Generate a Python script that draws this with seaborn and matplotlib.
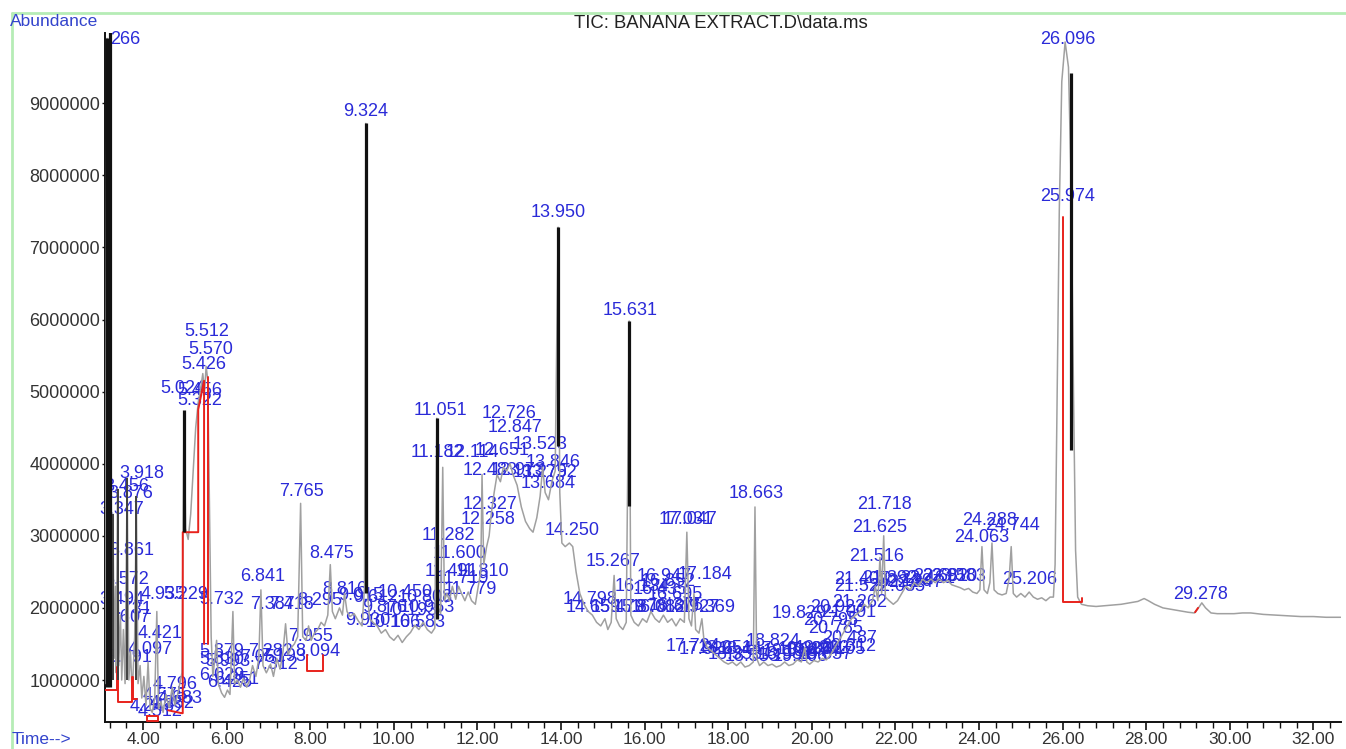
import numpy as np
import pandas as pd
import matplotlib
matplotlib.use("Agg")
import matplotlib.pyplot as plt
import seaborn as sns
from matplotlib.lines import Line2D
from matplotlib.ticker import MultipleLocator

# ---------------- data (time in min, abundance in millions) ----------------
tic_trace = [
    (3.09, 0.95), (3.14, 9.90), (3.17, 1.30), (3.21, 10.0), (3.25, 1.50), (3.28, 3.30), (3.31, 1.30),
    (3.34, 2.30), (3.36, 1.10), (3.39, 3.65), (3.42, 1.20), (3.46, 1.90), (3.49, 1.00), (3.53, 1.70),
    (3.57, 0.95), (3.62, 3.80), (3.66, 1.00), (3.70, 1.40), (3.74, 0.80), (3.80, 1.60), (3.84, 3.55),
    (3.88, 0.95), (3.93, 1.20), (3.97, 0.75), (4.02, 1.05), (4.07, 0.65), (4.12, 1.25), (4.17, 0.60),
    (4.22, 0.55), (4.28, 0.75), (4.33, 1.95), (4.37, 0.60), (4.43, 0.70), (4.48, 0.55), (4.55, 0.80),
    (4.62, 0.62), (4.70, 0.90), (4.76, 0.65), (4.82, 0.78), (4.88, 0.95), (4.93, 1.10), (4.98, 4.70),
    (5.02, 3.10), (5.08, 2.95), (5.14, 3.30), (5.20, 3.90), (5.26, 4.50), (5.32, 4.85), (5.38, 5.05),
    (5.43, 5.25), (5.47, 5.00), (5.51, 5.35), (5.55, 5.15), (5.59, 3.40), (5.63, 1.60), (5.67, 1.05),
    (5.72, 1.30), (5.76, 1.55), (5.80, 0.95), (5.88, 0.82), (5.95, 0.76), (6.02, 0.86), (6.08, 0.80),
    (6.15, 1.95), (6.19, 0.95), (6.26, 1.00), (6.33, 0.90), (6.40, 1.02), (6.48, 0.90), (6.55, 1.00),
    (6.62, 1.20), (6.70, 1.05), (6.77, 1.30), (6.82, 2.25), (6.87, 1.20), (6.95, 1.10), (7.05, 1.22),
    (7.12, 1.05), (7.20, 1.30), (7.28, 1.15), (7.35, 1.40), (7.41, 1.78), (7.47, 1.35), (7.55, 1.45),
    (7.62, 1.50), (7.70, 1.60), (7.77, 3.45), (7.82, 1.60), (7.90, 1.55), (7.96, 1.75), (8.02, 1.55),
    (8.10, 1.65), (8.18, 1.70), (8.26, 1.80), (8.34, 1.75), (8.42, 1.90), (8.48, 2.60), (8.53, 1.95),
    (8.60, 1.85), (8.70, 2.00), (8.77, 1.90), (8.82, 2.20), (8.88, 1.95), (8.95, 1.88), (9.05, 1.92),
    (9.15, 1.82), (9.24, 1.75), (9.30, 2.30), (9.33, 8.72), (9.37, 2.20), (9.42, 1.85), (9.50, 1.80),
    (9.60, 1.75), (9.70, 1.65), (9.80, 1.70), (9.90, 1.60), (10.00, 1.55), (10.10, 1.62), (10.20, 1.52),
    (10.30, 1.60), (10.40, 1.66), (10.50, 1.76), (10.60, 1.70), (10.70, 1.80), (10.80, 1.70), (10.90, 1.65),
    (10.98, 1.72), (11.03, 4.63), (11.07, 2.00), (11.12, 1.92), (11.17, 3.95), (11.21, 2.10), (11.27, 2.20),
    (11.33, 2.10), (11.40, 2.30), (11.48, 2.12), (11.55, 2.30), (11.62, 2.20), (11.70, 2.10), (11.78, 2.22),
    (11.86, 2.10), (11.95, 2.05), (12.02, 2.30), (12.08, 2.50), (12.11, 3.85), (12.15, 2.60), (12.22, 2.85),
    (12.28, 3.00), (12.33, 3.30), (12.40, 3.60), (12.47, 3.85), (12.55, 3.75), (12.62, 3.95), (12.70, 3.90),
    (12.78, 4.00), (12.85, 3.85), (12.95, 3.70), (13.05, 3.40), (13.15, 3.20), (13.25, 3.10), (13.33, 3.05),
    (13.42, 3.25), (13.50, 3.55), (13.56, 3.95), (13.62, 3.60), (13.70, 3.50), (13.78, 3.75), (13.86, 3.90),
    (13.93, 7.28), (13.97, 3.60), (14.02, 2.90), (14.10, 2.85), (14.20, 2.90), (14.28, 2.85), (14.36, 2.50),
    (14.45, 2.20), (14.55, 2.05), (14.65, 1.95), (14.75, 1.90), (14.85, 1.80), (14.95, 1.75), (15.05, 1.85),
    (15.12, 1.70), (15.20, 1.80), (15.27, 2.45), (15.32, 1.85), (15.40, 1.75), (15.48, 1.70), (15.56, 1.80),
    (15.63, 5.98), (15.67, 1.90), (15.75, 1.80), (15.85, 1.75), (15.95, 1.85), (16.05, 1.80), (16.15, 1.95),
    (16.25, 1.85), (16.35, 1.80), (16.45, 1.90), (16.55, 1.80), (16.65, 1.85), (16.75, 1.75), (16.85, 1.85),
    (16.95, 1.80), (17.01, 3.05), (17.06, 1.85), (17.12, 1.75), (17.18, 2.20), (17.22, 1.70), (17.30, 1.65),
    (17.37, 1.85), (17.42, 1.55), (17.50, 1.45), (17.60, 1.40), (17.70, 1.35), (17.80, 1.30), (17.90, 1.25),
    (18.00, 1.22), (18.10, 1.25), (18.20, 1.20), (18.30, 1.25), (18.40, 1.18), (18.50, 1.20), (18.60, 1.25),
    (18.64, 3.40), (18.68, 1.30), (18.75, 1.20), (18.85, 1.25), (18.95, 1.20), (19.05, 1.22), (19.15, 1.18),
    (19.25, 1.20), (19.35, 1.25), (19.45, 1.20), (19.55, 1.22), (19.65, 1.28), (19.75, 1.25), (19.83, 1.45),
    (19.88, 1.25), (19.95, 1.22), (20.05, 1.27), (20.15, 1.25), (20.25, 1.30), (20.35, 1.28), (20.45, 1.35),
    (20.55, 1.45), (20.65, 1.55), (20.75, 1.65), (20.85, 1.75), (20.95, 1.85), (21.05, 1.90), (21.15, 1.95),
    (21.25, 2.05), (21.35, 2.00), (21.45, 2.10), (21.52, 2.30), (21.58, 2.10), (21.63, 2.70), (21.67, 2.20),
    (21.72, 3.00), (21.76, 2.15), (21.85, 2.10), (21.95, 2.05), (22.05, 2.10), (22.15, 2.20), (22.25, 2.30),
    (22.35, 2.25), (22.45, 2.35), (22.55, 2.30), (22.65, 2.40), (22.75, 2.35), (22.85, 2.40), (22.95, 2.35),
    (23.05, 2.40), (23.15, 2.35), (23.25, 2.38), (23.35, 2.32), (23.45, 2.30), (23.55, 2.28), (23.65, 2.25),
    (23.75, 2.27), (23.85, 2.22), (23.95, 2.20), (24.02, 2.25), (24.07, 2.85), (24.12, 2.25), (24.20, 2.20),
    (24.26, 2.35), (24.31, 2.90), (24.36, 2.25), (24.45, 2.20), (24.55, 2.18), (24.65, 2.20), (24.72, 2.40),
    (24.77, 2.85), (24.82, 2.20), (24.90, 2.15), (25.00, 2.20), (25.10, 2.15), (25.20, 2.22), (25.30, 2.15),
    (25.40, 2.12), (25.50, 2.14), (25.60, 2.10), (25.70, 2.15), (25.78, 2.15), (25.82, 2.60), (25.86, 4.50),
    (25.92, 7.50), (25.98, 9.30), (26.06, 9.85), (26.14, 9.50), (26.20, 8.00), (26.26, 5.00), (26.31, 2.80),
    (26.36, 2.15), (26.45, 2.05), (26.60, 2.03), (26.80, 2.02), (27.00, 2.03), (27.20, 2.04), (27.40, 2.05),
    (27.60, 2.07), (27.80, 2.09), (27.95, 2.13), (28.05, 2.10), (28.20, 2.05), (28.40, 2.00), (28.60, 1.98),
    (28.80, 1.96), (29.00, 1.94), (29.15, 1.93), (29.25, 2.00), (29.33, 2.07), (29.42, 2.00), (29.55, 1.93),
    (29.70, 1.92), (29.90, 1.92), (30.10, 1.92), (30.30, 1.93), (30.50, 1.93), (30.80, 1.91), (31.10, 1.90),
    (31.40, 1.89), (31.70, 1.88), (32.00, 1.88), (32.30, 1.87), (32.65, 1.87),
]

# integrated-peak markers (time, low, high) in millions
black_peaks = [(3.14, 0.90, 9.90), (3.21, 0.90, 10.0), (4.98, 3.05, 4.75), (9.33, 2.20, 8.72),
               (11.03, 1.85, 4.63), (13.93, 4.25, 7.28), (15.63, 3.41, 5.98), (26.20, 4.19, 9.42)]
dark_peaks = [(3.28, 1.0, 3.30), (3.39, 1.0, 3.65), (3.62, 1.0, 3.80), (3.84, 1.0, 3.55)]

# red integration baselines
red_baselines = {
    "b1": [(3.09, 0.86), (3.38, 0.86), (3.38, 1.18), (3.40, 1.18), (3.40, 0.69), (3.74, 0.69),
           (3.74, 1.04), (3.77, 1.04), (3.77, 0.74), (3.86, 0.74)],
    "b2": [(4.10, 0.50), (4.36, 0.50), (4.36, 0.43), (4.10, 0.43), (4.10, 0.50)],
    "b3": [(4.60, 0.58), (4.92, 0.54), (4.95, 0.54), (4.95, 3.05), (5.32, 3.05), (5.32, 4.75),
           (5.46, 5.15), (5.46, 1.50)],
    "b4": [(5.55, 5.20), (5.55, 1.50)],
    "b5": [(7.93, 1.35), (7.93, 1.12), (8.31, 1.12), (8.31, 1.35)],
    "b6": [(26.01, 7.42), (26.01, 2.08), (26.46, 2.08), (26.46, 2.14)],
    "b7": [(29.17, 1.94), (29.24, 2.00)],
}

# peak labels: (text, time, abundance in millions)
peak_labels = [
    ("266", 3.57, 9.88), ("3.918", 3.98, 3.87), ("3.456", 3.62, 3.68), ("3.876", 3.71, 3.58),
    ("3.347", 3.50, 3.37), ("3.861", 3.74, 2.80), ("3.572", 3.62, 2.39), ("3.494", 3.50, 2.12),
    ("3.731", 3.69, 1.98), ("3.607", 3.64, 1.86), ("4.421", 4.41, 1.64), ("4.097", 4.17, 1.42),
    ("3.791", 3.69, 1.31), ("4.796", 4.77, 0.94), ("4.683", 4.89, 0.75), ("4.575", 4.53, 0.79),
    ("4.243", 4.22, 0.63), ("4.512", 4.41, 0.56), ("4.352", 4.69, 0.68), ("4.935", 4.48, 2.19),
    ("5.229", 5.03, 2.19), ("5.732", 5.89, 2.12), ("6.841", 6.87, 2.43), ("7.387", 7.09, 2.05),
    ("7.418", 7.56, 2.05), ("8.295", 8.23, 2.10), ("7.765", 7.80, 3.61), ("8.475", 8.52, 2.75),
    ("8.816", 8.83, 2.26), ("9.015", 9.21, 2.17), ("9.612", 9.57, 2.14), ("10.450", 10.27, 2.21),
    ("10.808", 10.75, 2.14), ("9.876", 9.79, 2.00), ("10.193", 10.39, 1.97), ("10.963", 10.79, 2.01),
    ("9.930", 9.38, 1.83), ("10.166", 9.98, 1.80), ("10.583", 10.58, 1.80), ("7.955", 8.00, 1.61),
    ("7.282", 7.04, 1.40), ("8.094", 8.19, 1.40), ("5.879", 5.89, 1.40), ("5.830", 5.89, 1.28),
    ("5.993", 6.03, 1.25), ("6.029", 5.89, 1.06), ("6.251", 6.25, 1.01), ("6.425", 6.08, 0.96),
    ("7.051", 6.85, 1.31), ("7.193", 7.35, 1.33), ("7.312", 7.18, 1.22), ("9.324", 9.33, 8.88),
    ("11.051", 11.11, 4.74), ("11.182", 11.03, 4.15), ("12.114", 11.87, 4.15), ("12.651", 12.59, 4.19),
    ("12.726", 12.76, 4.70), ("12.847", 12.90, 4.50), ("13.523", 13.50, 4.26), ("12.483", 12.30, 3.91),
    ("12.973", 12.97, 3.91), ("13.279", 13.50, 3.88), ("13.846", 13.81, 4.02), ("13.752", 13.74, 3.88),
    ("13.684", 13.69, 3.73), ("12.327", 12.30, 3.43), ("12.258", 12.25, 3.22), ("14.250", 14.26, 3.08),
    ("11.282", 11.30, 3.01), ("11.600", 11.58, 2.76), ("11.491", 11.39, 2.50), ("11.810", 12.11, 2.50),
    ("11.719", 11.63, 2.41), ("11.779", 11.82, 2.26), ("13.950", 13.93, 7.49), ("15.631", 15.65, 6.12),
    ("15.267", 15.24, 2.65), ("14.798", 14.69, 2.11), ("14.659", 14.77, 2.01), ("15.479", 15.36, 2.01),
    ("15.878", 15.89, 2.01), ("16.082", 16.32, 2.01), ("16.375", 16.75, 2.03), ("16.927", 17.13, 2.01),
    ("17.369", 17.52, 2.01), ("16.134", 15.94, 2.29), ("16.435", 16.37, 2.25), ("16.695", 16.73, 2.19),
    ("16.852", 16.56, 2.36), ("16.947", 16.46, 2.43), ("17.184", 17.44, 2.46), ("17.031", 16.99, 3.22),
    ("17.047", 17.09, 3.22), ("18.663", 18.67, 3.58), ("17.724", 17.16, 1.47), ("17.926", 17.47, 1.42),
    ("18.251", 17.92, 1.44), ("18.824", 19.07, 1.54), ("18.353", 18.16, 1.35), ("18.553", 18.57, 1.32),
    ("18.981", 19.36, 1.35), ("19.206", 19.72, 1.32), ("19.474", 20.00, 1.39), ("19.657", 20.32, 1.35),
    ("20.105", 20.63, 1.42), ("20.312", 20.87, 1.47), ("20.487", 20.91, 1.57), ("18.447", 18.40, 1.42),
    ("19.013", 19.48, 1.40), ("19.330", 19.84, 1.42), ("19.902", 20.24, 1.44), ("19.829", 19.69, 1.92),
    ("20.923", 20.63, 2.01), ("21.001", 20.87, 1.93), ("20.795", 20.44, 1.83), ("20.785", 20.56, 1.72),
    ("21.262", 21.15, 2.08), ("21.407", 21.20, 2.40), ("21.522", 21.20, 2.29), ("21.516", 21.54, 2.71),
    ("21.625", 21.63, 3.12), ("21.718", 21.73, 3.43), ("21.892", 21.87, 2.41), ("22.130", 22.23, 2.37),
    ("22.247", 22.47, 2.35), ("22.461", 22.78, 2.41), ("22.682", 23.07, 2.43), ("22.910", 23.31, 2.44),
    ("23.583", 23.50, 2.43), ("22.035", 22.06, 2.30), ("24.063", 24.07, 2.97), ("24.288", 24.26, 3.21),
    ("24.744", 24.81, 3.14), ("25.206", 25.22, 2.39), ("25.974", 26.13, 7.71), ("26.096", 26.13, 9.88),
    ("29.278", 29.31, 2.19), ("5.512", 5.53, 5.83), ("5.570", 5.63, 5.58), ("5.426", 5.46, 5.37),
    ("5.024", 4.96, 5.05), ("5.456", 5.36, 5.02), ("5.322", 5.36, 4.88),
]

y_ticks = [1000000, 2000000, 3000000, 4000000, 5000000, 6000000, 7000000, 8000000, 9000000]
x_ticks = [4, 6, 8, 10, 12, 14, 16, 18, 20, 22, 24, 26, 28, 30, 32]
x_tick_labels = ["4.00", "6.00", "8.00", "10.00", "12.00", "14.00", "16.00", "18.00", "20.00",
                 "22.00", "24.00", "26.00", "28.00", "30.00", "32.00"]
title = "TIC: BANANA EXTRACT.D\\data.ms"

# ---------------- drawing ----------------
sns.set_theme(style="white")
plt.rcParams['font.family'] = ['Liberation Sans', 'DejaVu Sans']

W, H = 1346, 749
fig = plt.figure(figsize=(W / 100, H / 100), dpi=100)
fig.patch.set_facecolor("white")
ax = fig.add_axes([105 / W, 27 / H, (1341 - 105) / W, (722 - 33) / H])

M = 1e6
trace_df = pd.DataFrame(tic_trace, columns=["time", "abund"])
trace_df["abund"] *= M

label_col = "#2a2ad8"
for txt, t, a in peak_labels:
    ax.text(t, a * M, txt, color=label_col, fontsize=13, ha="center", va="center",
            zorder=2, clip_on=False)

sns.lineplot(data=trace_df, x="time", y="abund", sort=False, estimator=None,
             color="#a0a0a0", lw=1.1, ax=ax, zorder=3)

rows = []
for k, pts in red_baselines.items():
    for i, (t, a) in enumerate(pts):
        rows.append({"seg": k, "order": i, "time": t, "abund": a * M})
red_df = pd.DataFrame(rows)
sns.lineplot(data=red_df, x="time", y="abund", units="seg", estimator=None, sort=False,
             color="#e8221c", lw=1.4, ax=ax, zorder=4)

for t, lo, hi in dark_peaks:
    ax.vlines(t, lo * M, hi * M, color="#404040", lw=1.4, zorder=4)
for t, lo, hi in black_peaks:
    ax.vlines(t, lo * M, hi * M, color="#111111", lw=2.3, zorder=5)

ax.set_xlim(3.09, 32.66)
ax.set_ylim(417500, 9974000)
ax.set_xlabel("")
ax.set_ylabel("")

ax.set_yticks(y_ticks)
ax.set_yticklabels([str(v) for v in y_ticks])
ax.set_xticks(x_ticks)
ax.set_xticklabels(x_tick_labels)
ax.xaxis.set_minor_locator(MultipleLocator(0.4))

for s in ["top", "right"]:
    ax.spines[s].set_visible(False)
for s in ["left", "bottom"]:
    ax.spines[s].set_color("#111111")
    ax.spines[s].set_linewidth(1.4)

ax.tick_params(axis="x", which="major", direction="out", length=6, width=1.2, color="#111111",
               labelsize=12.5, labelcolor="#333333", pad=1, bottom=True)
ax.tick_params(axis="x", which="minor", direction="out", length=4, width=1.0, color="#111111",
               bottom=True)
ax.tick_params(axis="y", which="major", direction="out", length=2.5, width=1.0, color="#111111",
               labelsize=13, labelcolor="#333333", pad=1, left=True)
ax.grid(False)

# frame and header texts
green = "#b6ecb6"
fig.add_artist(Line2D([12 / W, 1.0], [1 - 13 / H, 1 - 13 / H], transform=fig.transFigure,
                      color=green, lw=2))
fig.add_artist(Line2D([12 / W, 12 / W], [0.0, 1 - 13 / H], transform=fig.transFigure,
                      color=green, lw=2))
fig.text(10 / W, 1 - 22 / H, "Abundance", color="#3344cc", fontsize=12.5, ha="left", va="center")
fig.text(721 / W, 1 - 23 / H, title, color="#222222", fontsize=13.3, ha="center", va="center")
fig.text(12 / W, 1 - 739 / H, "Time-->", color="#3344cc", fontsize=12.5, ha="left", va="center")

fig.savefig("out.png", dpi=100, facecolor="white")
